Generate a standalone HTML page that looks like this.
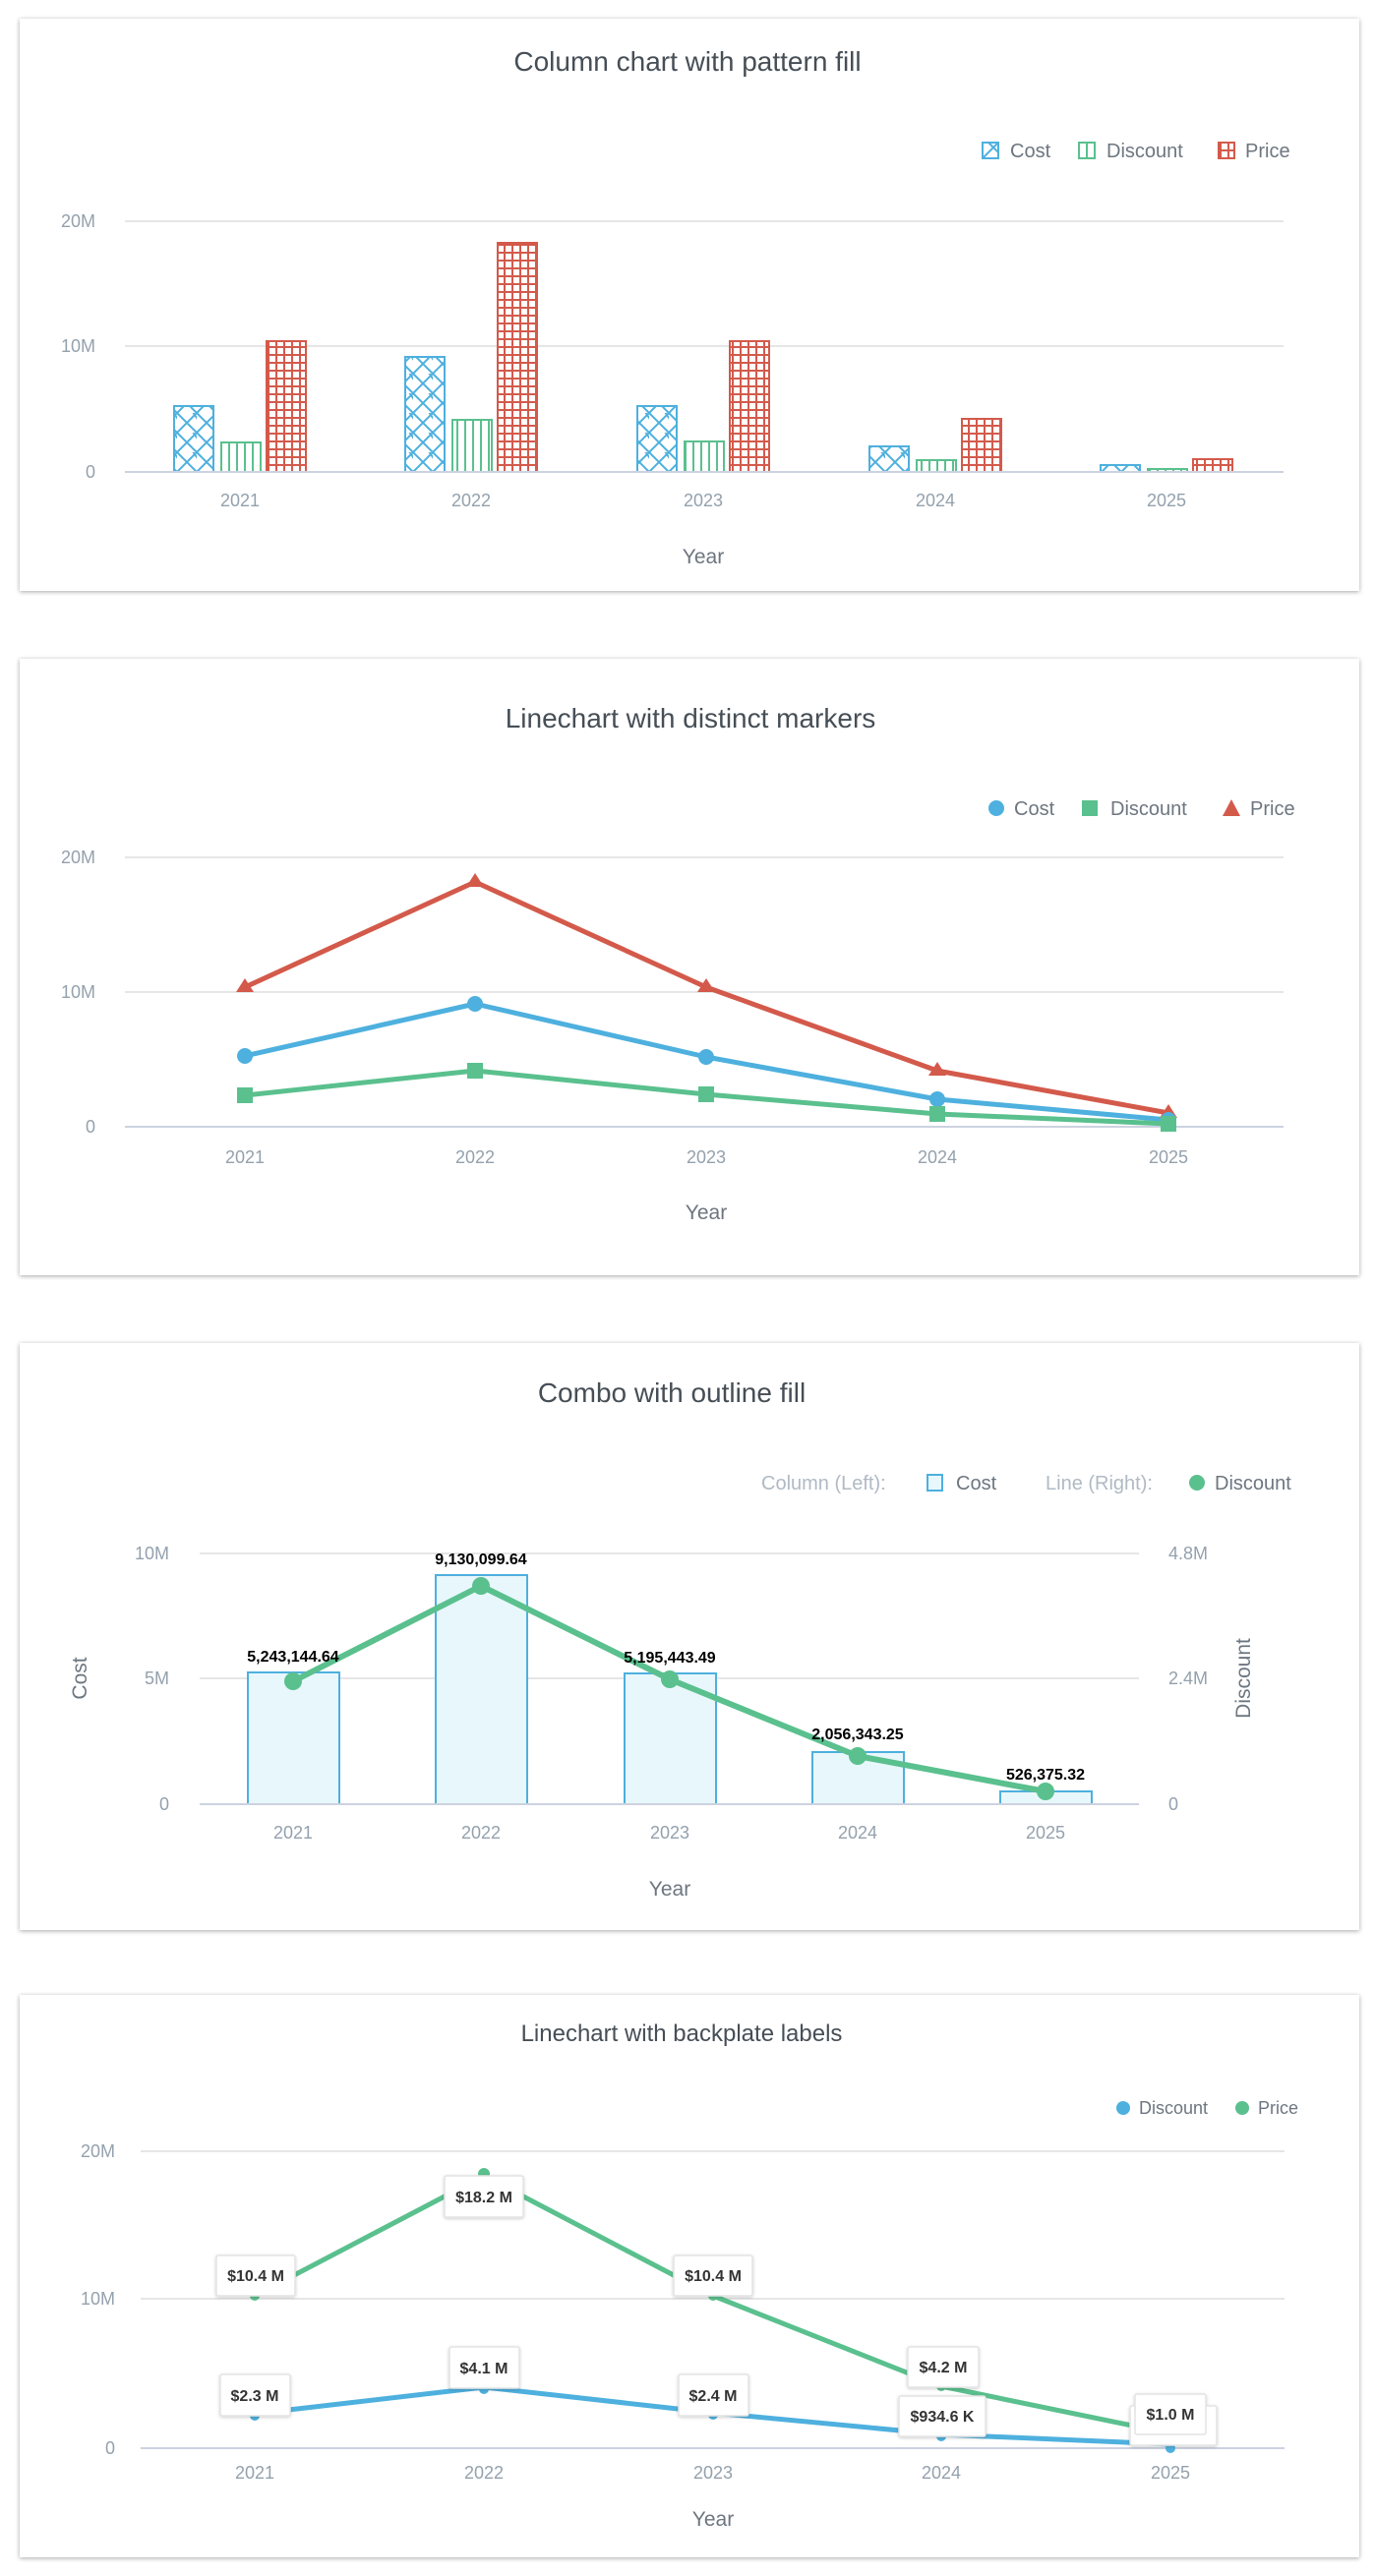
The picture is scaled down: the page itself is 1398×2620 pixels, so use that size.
<!DOCTYPE html>
<html><head><meta charset="utf-8"><style>
html,body{margin:0;padding:0;background:#fff;}
svg{display:block;font-family:"Liberation Sans",sans-serif;}
.t{fill:#464e56;font-size:28px;text-anchor:middle}
.ax{fill:#94a1ad;font-size:18px}
.yt{fill:#6d7680;font-size:21px;text-anchor:middle}
.lg{fill:#6d7680;font-size:20px}
.lb{font-size:16px;font-weight:bold;fill:#000;text-anchor:middle}
.bp{font-size:16px;font-weight:bold;fill:#333;text-anchor:middle}
</style></head><body>
<svg width="1398" height="2620" viewBox="0 0 1398 2620" xmlns="http://www.w3.org/2000/svg">
<defs>
<filter id="sh" x="-5%" y="-5%" width="110%" height="110%"><feDropShadow dx="0" dy="1" stdDeviation="2.5" flood-color="#000" flood-opacity="0.35"/></filter>
<filter id="sh2" x="-20%" y="-20%" width="140%" height="140%"><feDropShadow dx="0" dy="1" stdDeviation="1.5" flood-color="#000" flood-opacity="0.2"/></filter>
<pattern id="pc" width="20" height="20" patternUnits="userSpaceOnUse"><rect width="20" height="20" fill="#fff"/><path d="M0 0L20 20M20 0L0 20M-10 10L0 20M10-10L30 20" stroke="#4eb0de" stroke-width="2"/></pattern>
<pattern id="pd" width="8" height="8" patternUnits="userSpaceOnUse"><rect width="8" height="8" fill="#fff"/><path d="M1 0V8" stroke="#5ac08e" stroke-width="2"/></pattern>
<pattern id="pp" width="8" height="8" patternUnits="userSpaceOnUse"><rect width="8" height="8" fill="#fff"/><path d="M1 0V8M0 1H8" stroke="#d35a4b" stroke-width="2"/></pattern>
</defs>

<!-- Chart 1 -->
<rect x="20" y="19" width="1362" height="582" fill="#fff" filter="url(#sh)"/>
<text class="t" x="699" y="72">Column chart with pattern fill</text>
<rect x="999" y="145" width="16" height="16" fill="url(#pc)" stroke="#4eb0de" stroke-width="2"/><text class="lg" x="1027" y="160">Cost</text>
<rect x="1097" y="145" width="16" height="16" fill="url(#pd)" stroke="#5ac08e" stroke-width="2"/><text class="lg" x="1125" y="160">Discount</text>
<rect x="1239" y="145" width="16" height="16" fill="url(#pp)" stroke="#d35a4b" stroke-width="2"/><text class="lg" x="1266" y="160">Price</text>
<g stroke="#e6e6e6" stroke-width="2"><line x1="127" x2="1305" y1="225" y2="225"/><line x1="127" x2="1305" y1="352" y2="352"/></g>
<g class="ax" text-anchor="end"><text x="97" y="231">20M</text><text x="97" y="358">10M</text><text x="97" y="486">0</text></g>
<g stroke-width="2">
<g fill="url(#pc)" stroke="#4eb0de">
<rect x="177" y="413" width="40" height="67"/><rect x="412" y="363" width="40" height="117"/><rect x="648" y="413" width="40" height="67"/><rect x="884" y="454" width="40" height="26"/><rect x="1119" y="473" width="40" height="7"/></g>
<g fill="url(#pd)" stroke="#5ac08e">
<rect x="225" y="450" width="40" height="30"/><rect x="460" y="427" width="40" height="53"/><rect x="696" y="449" width="40" height="31"/><rect x="932" y="468" width="40" height="12"/><rect x="1167" y="477" width="40" height="3"/></g>
<g fill="url(#pp)" stroke="#d35a4b">
<rect x="271" y="347" width="40" height="133"/><rect x="506" y="247" width="40" height="233"/><rect x="742" y="347" width="40" height="133"/><rect x="978" y="426" width="40" height="54"/><rect x="1213" y="467" width="40" height="13"/></g>
</g>
<line x1="127" x2="1305" y1="480" y2="480" stroke="#ccd2e0" stroke-width="2"/>
<g class="ax" text-anchor="middle"><text x="244" y="515">2021</text><text x="479" y="515">2022</text><text x="715" y="515">2023</text><text x="951" y="515">2024</text><text x="1186" y="515">2025</text></g>
<text class="yt" x="715" y="573">Year</text>

<!-- Chart 2 -->
<rect x="20" y="670" width="1362" height="627" fill="#fff" filter="url(#sh)"/>
<text class="t" x="702" y="740">Linechart with distinct markers</text>
<circle cx="1013" cy="822" r="8" fill="#4eb0de"/><text class="lg" x="1031" y="829">Cost</text>
<rect x="1100" y="814" width="16" height="16" fill="#5ac08e"/><text class="lg" x="1129" y="829">Discount</text>
<path d="M1252 813L1261 830L1243 830Z" fill="#d35a4b"/><text class="lg" x="1271" y="829">Price</text>
<g stroke="#e6e6e6" stroke-width="2"><line x1="127" x2="1305" y1="872" y2="872"/><line x1="127" x2="1305" y1="1009" y2="1009"/></g>
<g class="ax" text-anchor="end"><text x="97" y="878">20M</text><text x="97" y="1015">10M</text><text x="97" y="1152">0</text></g>
<line x1="127" x2="1305" y1="1146" y2="1146" stroke="#ccd2e0" stroke-width="2"/>
<g fill="none" stroke-width="5" stroke-linejoin="round">
<polyline stroke="#d35a4b" points="249,1004 483,897 718,1004 953,1089 1188,1132"/>
<polyline stroke="#4eb0de" points="249,1074 483,1021 718,1075 953,1118 1188,1139"/>
<polyline stroke="#5ac08e" points="249,1114 483,1089 718,1113 953,1133 1188,1143"/>
</g>
<g fill="#d35a4b"><path d="M249 995l9 14h-18z"/><path d="M483 888l9 14h-18z"/><path d="M718 995l9 14h-18z"/><path d="M953 1080l9 14h-18z"/><path d="M1188 1123l9 14h-18z"/></g>
<g fill="#4eb0de"><circle cx="249" cy="1074" r="8"/><circle cx="483" cy="1021" r="8"/><circle cx="718" cy="1075" r="8"/><circle cx="953" cy="1118" r="8"/><circle cx="1188" cy="1139" r="8"/></g>
<g fill="#5ac08e"><rect x="241" y="1106" width="16" height="16"/><rect x="475" y="1081" width="16" height="16"/><rect x="710" y="1105" width="16" height="16"/><rect x="945" y="1125" width="16" height="16"/><rect x="1180" y="1135" width="16" height="16"/></g>
<g class="ax" text-anchor="middle"><text x="249" y="1183">2021</text><text x="483" y="1183">2022</text><text x="718" y="1183">2023</text><text x="953" y="1183">2024</text><text x="1188" y="1183">2025</text></g>
<text class="yt" x="718" y="1240">Year</text>

<!-- Chart 3 -->
<rect x="20" y="1366" width="1362" height="597" fill="#fff" filter="url(#sh)"/>
<text class="t" x="683" y="1426">Combo with outline fill</text>
<text class="lg" x="774" y="1515" fill="#b0bac4" style="fill:#b0bac4">Column (Left):</text>
<rect x="943" y="1500" width="15" height="16" fill="#e8f7fc" stroke="#4eb0de" stroke-width="2"/><text class="lg" x="972" y="1515">Cost</text>
<text class="lg" x="1063" y="1515" style="fill:#b0bac4">Line (Right):</text>
<circle cx="1217" cy="1508" r="8" fill="#5ac08e"/><text class="lg" x="1235" y="1515">Discount</text>
<g stroke="#e6e6e6" stroke-width="2"><line x1="203" x2="1158" y1="1580" y2="1580"/><line x1="203" x2="1158" y1="1707" y2="1707"/></g>
<g class="ax" text-anchor="end"><text x="172" y="1586">10M</text><text x="172" y="1713">5M</text><text x="172" y="1841">0</text></g>
<g class="ax"><text x="1188" y="1586">4.8M</text><text x="1188" y="1713">2.4M</text><text x="1188" y="1841">0</text></g>
<text class="yt" transform="translate(88,1707) rotate(-90)">Cost</text>
<text class="yt" transform="translate(1271,1707) rotate(-90)">Discount</text>
<g fill="#e8f7fc" stroke="#4eb0de" stroke-width="2">
<rect x="252" y="1701" width="93" height="134"/><rect x="443" y="1602" width="93" height="233"/><rect x="635" y="1702" width="93" height="133"/><rect x="826" y="1782" width="93" height="53"/><rect x="1017" y="1822" width="93" height="13"/></g>
<line x1="203" x2="1158" y1="1835" y2="1835" stroke="#ccd2e0" stroke-width="2"/>
<polyline fill="none" stroke="#5ac08e" stroke-width="6" stroke-linejoin="round" points="298,1710 489,1613 681,1708 872,1786 1063,1822"/>
<g fill="#5ac08e"><circle cx="298" cy="1710" r="9"/><circle cx="489" cy="1613" r="9"/><circle cx="681" cy="1708" r="9"/><circle cx="872" cy="1786" r="9"/><circle cx="1063" cy="1822" r="9"/></g>
<g class="lb"><text x="298" y="1690">5,243,144.64</text><text x="489" y="1591">9,130,099.64</text><text x="681" y="1691">5,195,443.49</text><text x="872" y="1769">2,056,343.25</text><text x="1063" y="1810">526,375.32</text></g>
<g class="ax" text-anchor="middle"><text x="298" y="1870">2021</text><text x="489" y="1870">2022</text><text x="681" y="1870">2023</text><text x="872" y="1870">2024</text><text x="1063" y="1870">2025</text></g>
<text class="yt" x="681" y="1928">Year</text>

<!-- Chart 4 -->
<rect x="20" y="2029" width="1362" height="572" fill="#fff" filter="url(#sh)"/>
<text class="t" x="693" y="2076" style="font-size:24px">Linechart with backplate labels</text>
<circle cx="1142" cy="2144" r="7" fill="#4eb0de"/><text class="lg" x="1158" y="2150" style="font-size:18px">Discount</text>
<circle cx="1263" cy="2144" r="7" fill="#5ac08e"/><text class="lg" x="1279" y="2150" style="font-size:18px">Price</text>
<g stroke="#e6e6e6" stroke-width="2"><line x1="143" x2="1306" y1="2188" y2="2188"/><line x1="143" x2="1306" y1="2338" y2="2338"/></g>
<g class="ax" text-anchor="end"><text x="117" y="2194">20M</text><text x="117" y="2344">10M</text><text x="117" y="2496">0</text></g>
<line x1="143" x2="1306" y1="2490" y2="2490" stroke="#ccd2e0" stroke-width="2"/>
<g fill="none" stroke-width="5" stroke-linejoin="round">
<polyline stroke="#5ac08e" points="259,2335 492,2213 725,2335 957,2427 1190,2475"/>
<polyline stroke="#4eb0de" points="259,2455 492,2428 725,2454 957,2476 1190,2486"/>
</g>
<g fill="#5ac08e"><circle cx="259" cy="2335" r="5"/><circle cx="492" cy="2211" r="6"/><circle cx="725" cy="2335" r="5"/><circle cx="957" cy="2427" r="5"/><circle cx="1190" cy="2475" r="5"/></g>
<g fill="#4eb0de"><circle cx="259" cy="2457" r="5"/><circle cx="492" cy="2430" r="5"/><circle cx="725" cy="2456" r="5"/><circle cx="957" cy="2478" r="5"/><circle cx="1190" cy="2490" r="5"/></g>
<g fill="#fff" stroke="#e3e3e3" stroke-width="1.5" filter="url(#sh2)">
<rect x="1149" y="2447" width="88" height="40" rx="2"/>
<rect x="220" y="2294" width="80" height="41" rx="2"/>
<rect x="452" y="2213" width="80" height="42" rx="2"/>
<rect x="685" y="2294" width="80" height="41" rx="2"/>
<rect x="923" y="2387" width="72" height="41" rx="2"/>
<rect x="1154" y="2435" width="72" height="41" rx="2"/>
<rect x="224" y="2415" width="71" height="42" rx="2"/>
<rect x="457" y="2387" width="71" height="42" rx="2"/>
<rect x="690" y="2415" width="71" height="42" rx="2"/>
<rect x="914" y="2437" width="88" height="41" rx="2"/>
</g>
<g class="bp">
<text x="260" y="2320">$10.4 M</text><text x="492" y="2240">$18.2 M</text><text x="725" y="2320">$10.4 M</text><text x="959" y="2413">$4.2 M</text><text x="1190" y="2461">$1.0 M</text>
<text x="259" y="2442">$2.3 M</text><text x="492" y="2414">$4.1 M</text><text x="725" y="2442">$2.4 M</text><text x="958" y="2463">$934.6 K</text>
</g>
<g class="ax" text-anchor="middle"><text x="259" y="2521">2021</text><text x="492" y="2521">2022</text><text x="725" y="2521">2023</text><text x="957" y="2521">2024</text><text x="1190" y="2521">2025</text></g>
<text class="yt" x="725" y="2569">Year</text>
</svg>
</body></html>
